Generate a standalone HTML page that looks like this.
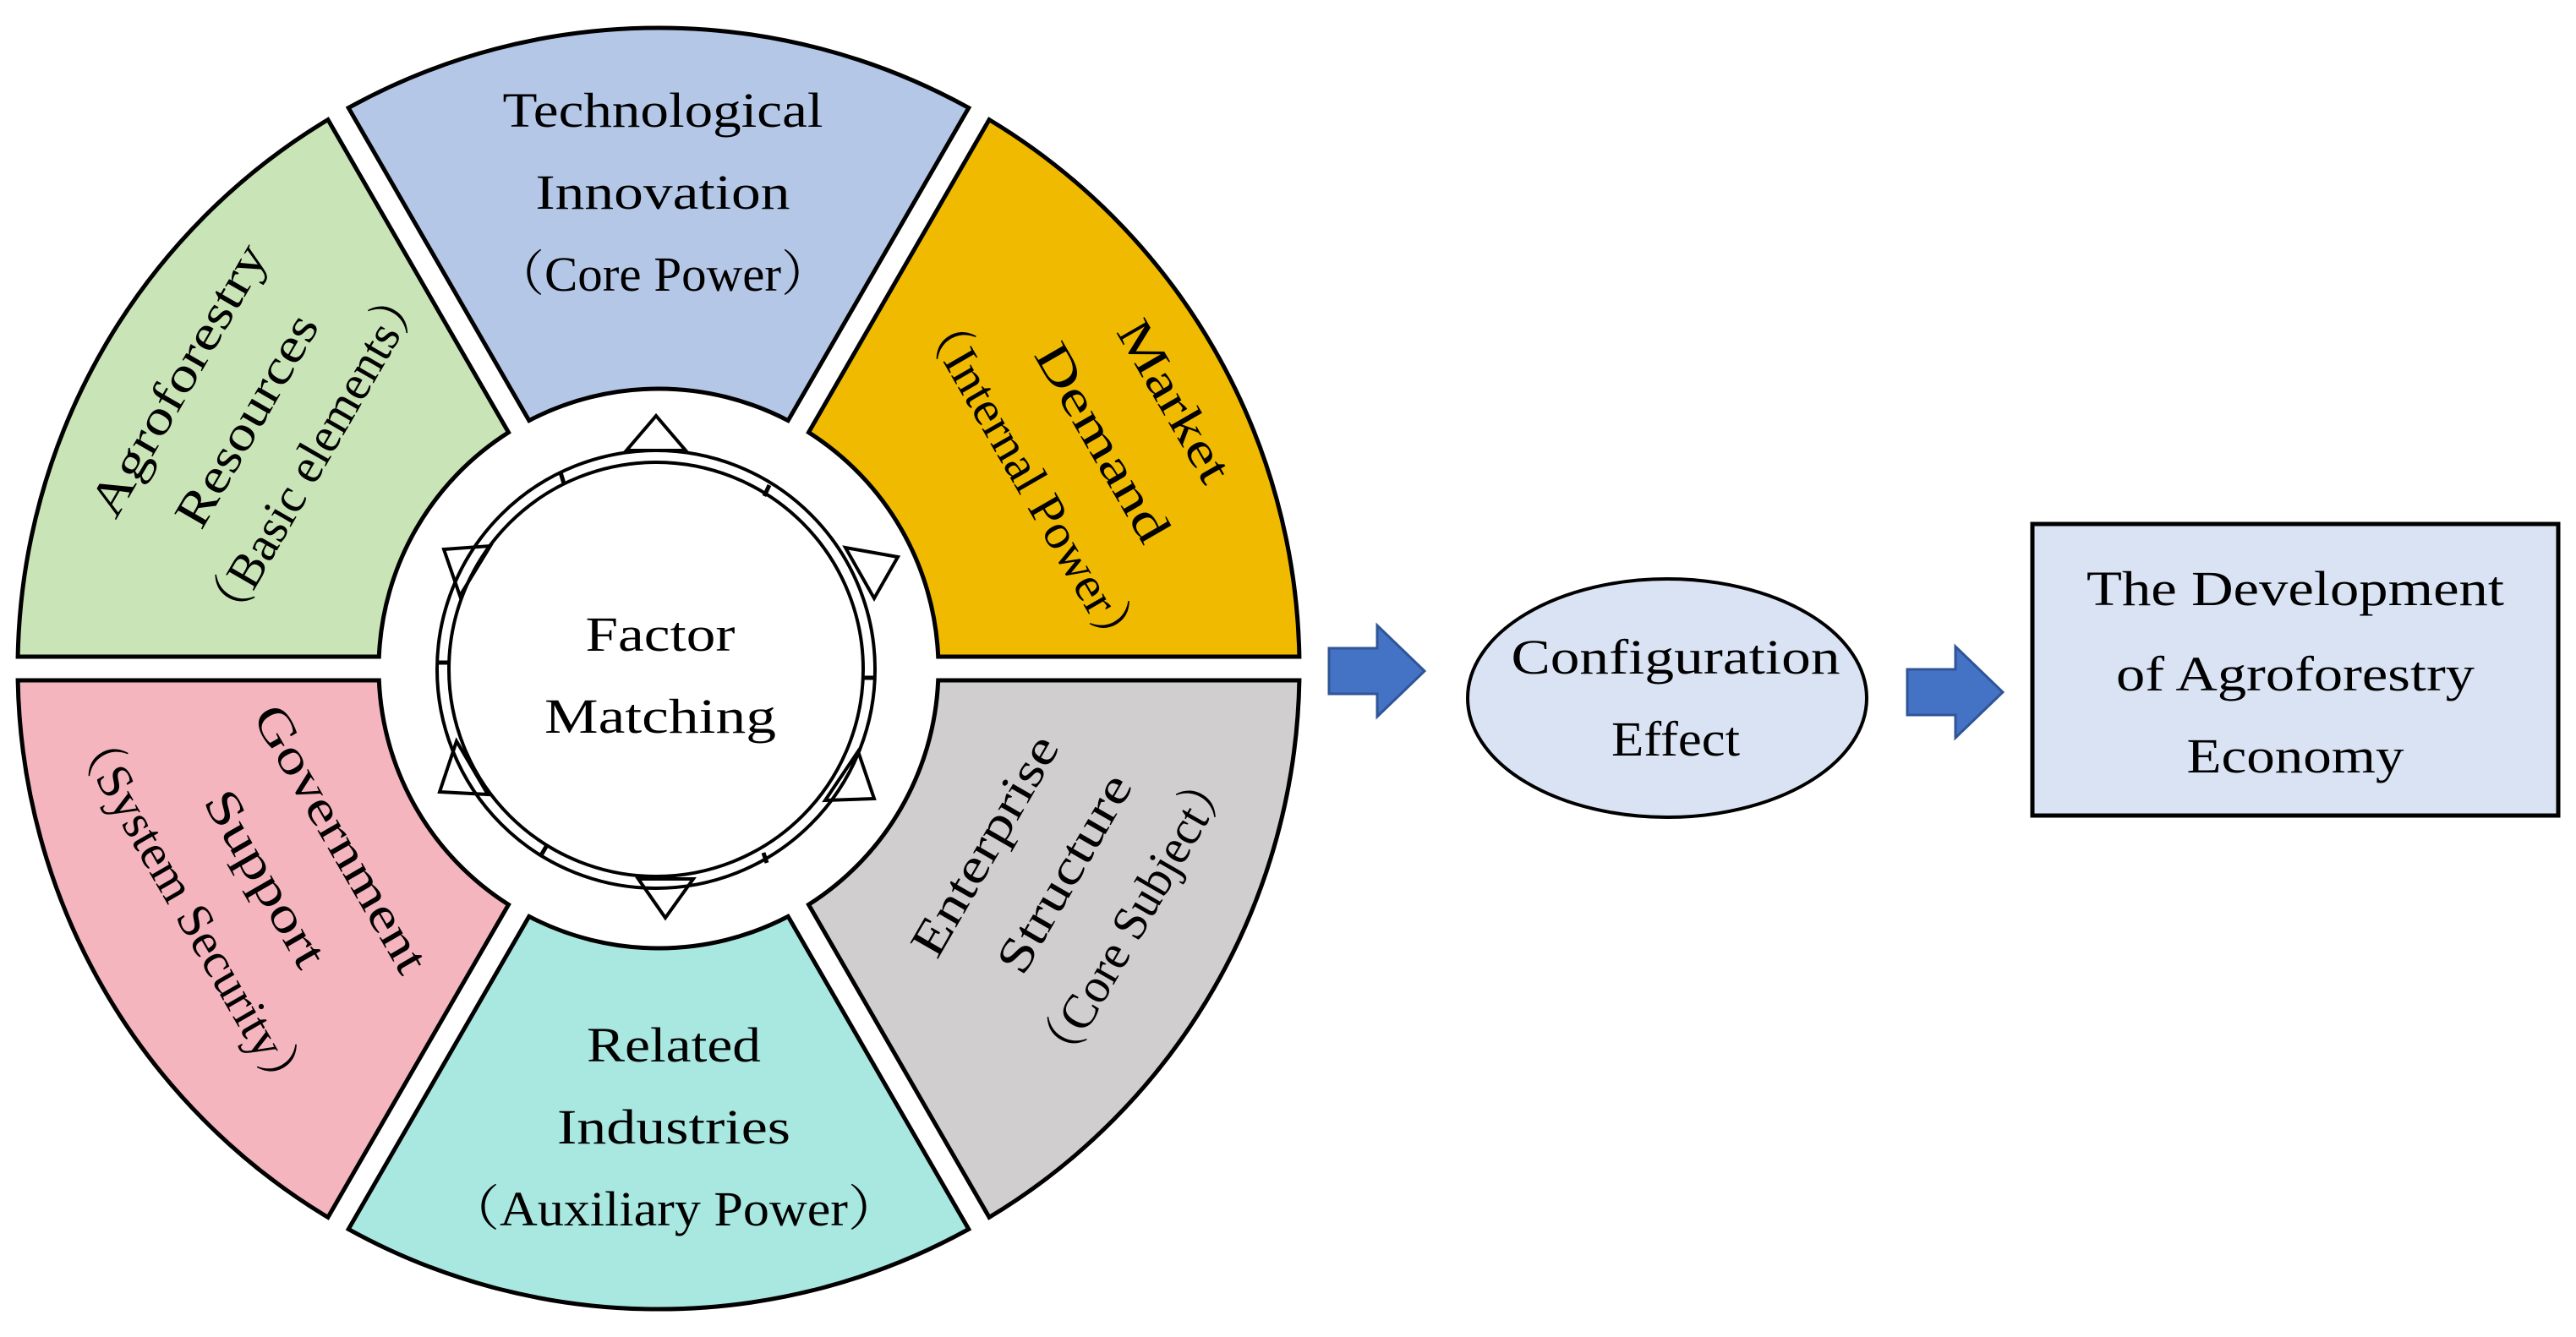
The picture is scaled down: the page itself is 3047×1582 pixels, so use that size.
<!DOCTYPE html>
<html><head><meta charset="utf-8"><style>
html,body{margin:0;padding:0;background:#fff;}
svg{display:block;}
text{font-family:"Liberation Serif","Noto Serif CJK SC",serif;font-size:58px;fill:#000;}
</style></head><body>
<svg width="3047" height="1582" viewBox="0 0 3047 1582" xmlns="http://www.w3.org/2000/svg">
<g stroke="#000" stroke-width="5" stroke-linejoin="miter">
<path d="M932.2,497.6 L1145.8,127.6 A758,758 0 0 0 412.2,127.6 L625.8,497.6 A331,331 0 0 1 932.2,497.6 Z" fill="#B4C7E7"/>
<path d="M1109.7,777 L1536.9,777 A758,758 0 0 0 1170.1,141.6 L956.5,511.6 A331,331 0 0 1 1109.7,777 Z" fill="#F0BA00"/>
<path d="M601.5,511.6 L387.9,141.6 A758,758 0 0 0 21.1,777 L448.3,777 A331,331 0 0 1 601.5,511.6 Z" fill="#C9E4B6"/>
<path d="M448.3,805 L21.1,805 A758,758 0 0 0 387.9,1440.4 L601.5,1070.4 A331,331 0 0 1 448.3,805 Z" fill="#F4B5BE"/>
<path d="M625.8,1084.4 L412.2,1454.4 A758,758 0 0 0 1145.8,1454.4 L932.2,1084.4 A331,331 0 0 1 625.8,1084.4 Z" fill="#A9E7E1"/>
<path d="M956.5,1070.4 L1170.1,1440.4 A758,758 0 0 0 1536.9,805 L1109.7,805 A331,331 0 0 1 956.5,1070.4 Z" fill="#D0CECF"/>
</g>
<!-- center rings -->
<g fill="none" stroke="#000" stroke-width="4">
<circle cx="776" cy="792" r="259" fill="#fff"/>
<circle cx="776" cy="792" r="245"/>
</g>
<!-- triangles -->
<g fill="none" stroke="#000" stroke-width="4">
<polygon points="741,533 811,533 776,492"/>
<polygon points="755,1040 820,1040 787,1086"/>
<polygon points="525,650 580,646 544,705"/>
<polygon points="1000,648 1062,659 1034,708"/>
<polygon points="540,877 520,937 577,940"/>
<polygon points="1015,889 1034,945 976,947"/>
</g>
<!-- ticks -->
<g stroke="#000" stroke-width="5">
<line x1="663" y1="559" x2="667" y2="572"/>
<line x1="910" y1="574" x2="904" y2="587"/>
<line x1="518" y1="784" x2="531" y2="784"/>
<line x1="1020" y1="802" x2="1034" y2="802"/>
<line x1="647" y1="1000" x2="640" y2="1012"/>
<line x1="903" y1="1009" x2="907" y2="1021"/>
</g>
<!-- segment texts -->
<text x="784" y="150" text-anchor="middle" textLength="379" lengthAdjust="spacingAndGlyphs">Technological</text>
<text x="784" y="247" text-anchor="middle" textLength="301" lengthAdjust="spacingAndGlyphs">Innovation</text>
<text x="784" y="344" text-anchor="middle" textLength="398" lengthAdjust="spacingAndGlyphs">（Core Power）</text>

<text x="797" y="1256" text-anchor="middle" textLength="206" lengthAdjust="spacingAndGlyphs">Related</text>
<text x="797" y="1353" text-anchor="middle" textLength="276" lengthAdjust="spacingAndGlyphs">Industries</text>
<text x="797" y="1450" text-anchor="middle" textLength="536" lengthAdjust="spacingAndGlyphs">（Auxiliary Power）</text>

<g transform="translate(210,449) rotate(-60)"><text y="20" text-anchor="middle" textLength="362" lengthAdjust="spacingAndGlyphs">Agroforestry</text></g>
<g transform="translate(291,497) rotate(-60)"><text y="20" text-anchor="middle" textLength="281" lengthAdjust="spacingAndGlyphs">Resources</text></g>
<g transform="translate(370,538) rotate(-60)"><text y="20" text-anchor="middle" textLength="469" lengthAdjust="spacingAndGlyphs">（Basic elements）</text></g>

<g transform="translate(1390,474) rotate(60)"><text y="20" text-anchor="middle" textLength="212" lengthAdjust="spacingAndGlyphs">Market</text></g>
<g transform="translate(1305,523) rotate(60)"><text y="20" text-anchor="middle" textLength="262" lengthAdjust="spacingAndGlyphs">Demand</text></g>
<g transform="translate(1220,569) rotate(60)"><text y="20" text-anchor="middle" textLength="472" lengthAdjust="spacingAndGlyphs">（Internal Power）</text></g>

<g transform="translate(404,992) rotate(60)"><text y="20" text-anchor="middle" textLength="356" lengthAdjust="spacingAndGlyphs">Government</text></g>
<g transform="translate(315,1039) rotate(60)"><text y="20" text-anchor="middle" textLength="232" lengthAdjust="spacingAndGlyphs">Support</text></g>
<g transform="translate(226,1078) rotate(60)"><text y="20" text-anchor="middle" textLength="508" lengthAdjust="spacingAndGlyphs">（System Security）</text></g>

<g transform="translate(1164,1000) rotate(-60)"><text y="20" text-anchor="middle" textLength="292" lengthAdjust="spacingAndGlyphs">Enterprise</text></g>
<g transform="translate(1258,1033) rotate(-60)"><text y="20" text-anchor="middle" textLength="262" lengthAdjust="spacingAndGlyphs">Structure</text></g>
<g transform="translate(1340,1086) rotate(-60)"><text y="20" text-anchor="middle" textLength="409" lengthAdjust="spacingAndGlyphs">（Core Subject）</text></g>

<text x="781" y="770" text-anchor="middle" textLength="177" lengthAdjust="spacingAndGlyphs">Factor</text>
<text x="781" y="867" text-anchor="middle" textLength="274" lengthAdjust="spacingAndGlyphs">Matching</text>

<!-- arrows -->
<g fill="#4472C4" stroke="#2F5597" stroke-width="3">
<polygon points="1572,767 1629,767 1629,740 1685,794 1629,848 1629,821 1572,821"/>
<polygon points="2256,792 2313,792 2313,765 2369,819 2313,873 2313,846 2256,846"/>
</g>
<!-- ellipse -->
<ellipse cx="1972" cy="826" rx="236" ry="141" fill="#DAE3F3" stroke="#000" stroke-width="4"/>
<text x="1982" y="797" text-anchor="middle" textLength="389" lengthAdjust="spacingAndGlyphs">Configuration</text>
<text x="1982" y="894" text-anchor="middle" textLength="152" lengthAdjust="spacingAndGlyphs">Effect</text>
<!-- box -->
<rect x="2404" y="620" width="622" height="345" fill="#DAE3F3" stroke="#000" stroke-width="5"/>
<text x="2715" y="716" text-anchor="middle" textLength="494" lengthAdjust="spacingAndGlyphs">The Development</text>
<text x="2715" y="817" text-anchor="middle" textLength="424" lengthAdjust="spacingAndGlyphs">of Agroforestry</text>
<text x="2715" y="914" text-anchor="middle" textLength="257" lengthAdjust="spacingAndGlyphs">Economy</text>
</svg>
</body></html>
